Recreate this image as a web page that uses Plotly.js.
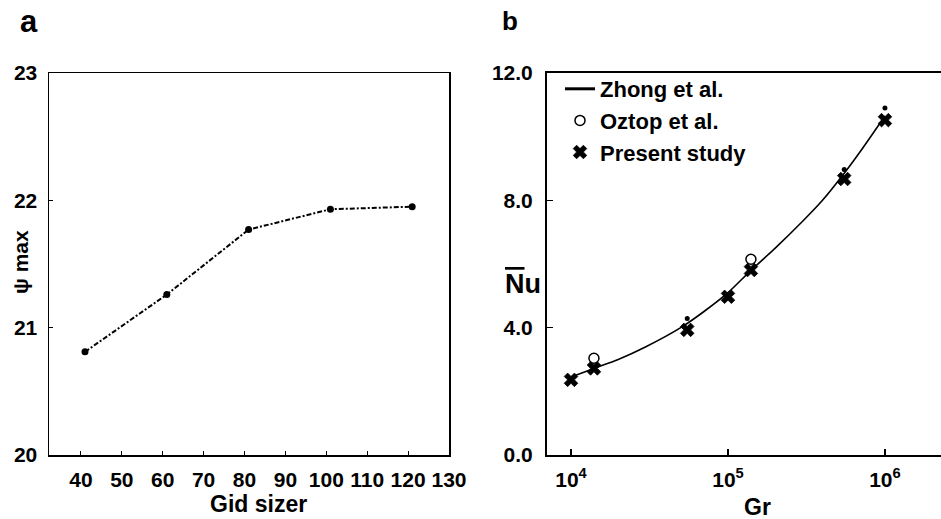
<!DOCTYPE html>
<html>
<head>
<meta charset="utf-8">
<script src="https://cdn.plot.ly/plotly-3.0.1.min.js"></script>
<style>html,body{margin:0;padding:0;background:#fff;}#chart{width:941px;height:519px;}</style>
</head>
<body>
<div id="chart"></div>
<script>
// Panel a data
const gridSize = [41, 61, 81, 101, 121];
const psiMax = [20.81, 21.26, 21.77, 21.93, 21.95];
const gridTicks = [40, 50, 60, 70, 80, 90, 100, 110, 120, 130];
const psiTicks = [20, 21, 22, 23];

// Panel b data
const zhongGr = [1e4, 1.4e4, 2e4, 3e4, 5e4, 7e4, 1e5, 1.4e5, 2e5, 3e5, 4e5, 5.5e5, 7e5, 1e6];
const zhongNu = [2.45, 2.72, 3.0, 3.4, 4.0, 4.5, 5.1, 5.8, 6.5, 7.35, 8.0, 8.85, 9.55, 10.65];
const oztopGr = [1.4e4, 1.4e5];
const oztopNu = [3.04, 6.15];
const presentGr = [1e4, 1.4e4, 5.5e4, 1e5, 1.4e5, 5.5e5, 1e6];
const presentNu = [2.36, 2.72, 3.93, 4.97, 5.81, 8.67, 10.52];
const dotGr = [5.5e4, 5.5e5, 1e6];
const dotNu = [4.29, 8.97, 10.9];
const nuTicks = [0, 4, 8, 12];
const nuTickText = ['0.0', '4.0', '8.0', '12.0'];
const grTicks = [1e4, 1e5, 1e6];
const grTickText = ['10<sup>4</sup>', '10<sup>5</sup>', '10<sup>6</sup>'];

const W = 941, H = 519;
const px = x => x / W;
const py = y => 1 - y / H;
const FONT = '"Liberation Sans", Arial, Helvetica, sans-serif';

const traces = [
  {x: gridSize, y: psiMax, xaxis: 'x', yaxis: 'y', mode: 'lines+markers', showlegend: false,
   line: {color: '#000', width: 2, dash: '5px,2px,2px,2px'}, marker: {color: '#000', size: 7}},
  {x: zhongGr, y: zhongNu, xaxis: 'x2', yaxis: 'y2', mode: 'lines', name: 'Zhong et al.', showlegend: false,
   legendgroup: 'z', line: {color: '#000', width: 1.6, shape: 'spline', smoothing: 0.8}},
  // legend key only (thicker sample line, as in the reference legend)
  {x: [null], y: [null], xaxis: 'x2', yaxis: 'y2', mode: 'lines', name: 'Zhong et al.',
   legendgroup: 'z', line: {color: '#000', width: 3}},
  {x: oztopGr, y: oztopNu, xaxis: 'x2', yaxis: 'y2', mode: 'markers', name: 'Oztop et al.',
   marker: {symbol: 'circle-open', color: '#000', size: 10, line: {width: 1.5, color: '#000'}}},
  {x: presentGr, y: presentNu, xaxis: 'x2', yaxis: 'y2', mode: 'markers', name: 'Present study',
   marker: {symbol: 'x', color: '#000', size: 12, line: {width: 0.8, color: '#000'}}},
  {x: dotGr, y: dotNu, xaxis: 'x2', yaxis: 'y2', mode: 'markers', showlegend: false,
   marker: {symbol: 'circle', color: '#000', size: 5}}
];

const tickFont = {family: FONT, size: 21, color: '#000', weight: 'bold'};

const layout = {
  width: W, height: H,
  margin: {l: 0, r: 0, t: 0, b: 0},
  paper_bgcolor: '#fff', plot_bgcolor: '#fff',
  showlegend: true,
  xaxis: {domain: [px(49), px(449)], range: [32.2, 130], tickmode: 'array', tickvals: gridTicks,
    ticks: 'inside', ticklen: 4, tickwidth: 1, tickcolor: '#000', showline: true, linecolor: '#000',
    linewidth: 1.5, mirror: true, showgrid: false, zeroline: false, tickfont: tickFont,
    ticklabelstandoff: 5, anchor: 'y'},
  yaxis: {domain: [py(455), py(73)], range: [20, 23], tickmode: 'array', tickvals: psiTicks,
    ticks: 'inside', ticklen: 4, tickwidth: 1, tickcolor: '#000', showline: true, linecolor: '#000',
    linewidth: 1.5, mirror: true, showgrid: false, zeroline: false, tickfont: tickFont,
    ticklabelstandoff: 6, anchor: 'x'},
  xaxis2: {domain: [px(547), 1], type: 'log', range: [3.847, 6.357], tickmode: 'array',
    tickvals: grTicks, ticktext: grTickText,
    ticks: 'inside', ticklen: 6, tickwidth: 1.2, tickcolor: '#000', showline: true, linecolor: '#000',
    linewidth: 2, mirror: true, showgrid: false, zeroline: false, tickfont: tickFont,
    ticklabelstandoff: 5, anchor: 'y2'},
  yaxis2: {domain: [py(455), py(73)], range: [0, 12], tickmode: 'array', tickvals: nuTicks,
    ticktext: nuTickText,
    ticks: 'inside', ticklen: 6, tickwidth: 1.2, tickcolor: '#000', showline: true, linecolor: '#000',
    linewidth: 2, mirror: false, showgrid: false, zeroline: false, tickfont: tickFont,
    ticklabelstandoff: 8, anchor: 'x2'},
  legend: {x: px(560), y: py(68), xanchor: 'left', yanchor: 'top', bgcolor: 'rgba(0,0,0,0)',
    font: {family: FONT, size: 22, color: '#000', weight: 'bold'}, tracegroupgap: 0},
  annotations: [
    {text: 'a', x: px(29), y: py(22), xref: 'paper', yref: 'paper', showarrow: false,
     xanchor: 'center', yanchor: 'middle', font: {family: FONT, size: 31, color: '#000', weight: 'bold'}},
    {text: 'b', x: px(510), y: py(21), xref: 'paper', yref: 'paper', showarrow: false,
     xanchor: 'center', yanchor: 'middle', font: {family: FONT, size: 26, color: '#000', weight: 'bold'}},
    {text: 'Gid sizer', x: px(258), y: py(504), xref: 'paper', yref: 'paper', showarrow: false,
     xanchor: 'center', yanchor: 'middle', font: {family: FONT, size: 23, color: '#000', weight: 'bold'}},
    {text: 'Gr', x: px(757), y: py(507), xref: 'paper', yref: 'paper', showarrow: false,
     xanchor: 'center', yanchor: 'middle', font: {family: FONT, size: 23, color: '#000', weight: 'bold'}},
    {text: 'ψ max', x: px(20), y: py(262), xref: 'paper', yref: 'paper', showarrow: false, textangle: -90,
     xanchor: 'center', yanchor: 'middle', font: {family: FONT, size: 21, color: '#000', weight: 'bold'}},
    {text: '<span style="text-decoration:overline">N</span>u', x: px(523), y: py(284), xref: 'paper', yref: 'paper',
     xanchor: 'center', yanchor: 'middle', showarrow: false, font: {family: FONT, size: 27, color: '#000', weight: 'bold'}}
  ]
};

Plotly.newPlot('chart', traces, layout, {displayModeBar: false, staticPlot: true});
</script>
</body>
</html>
